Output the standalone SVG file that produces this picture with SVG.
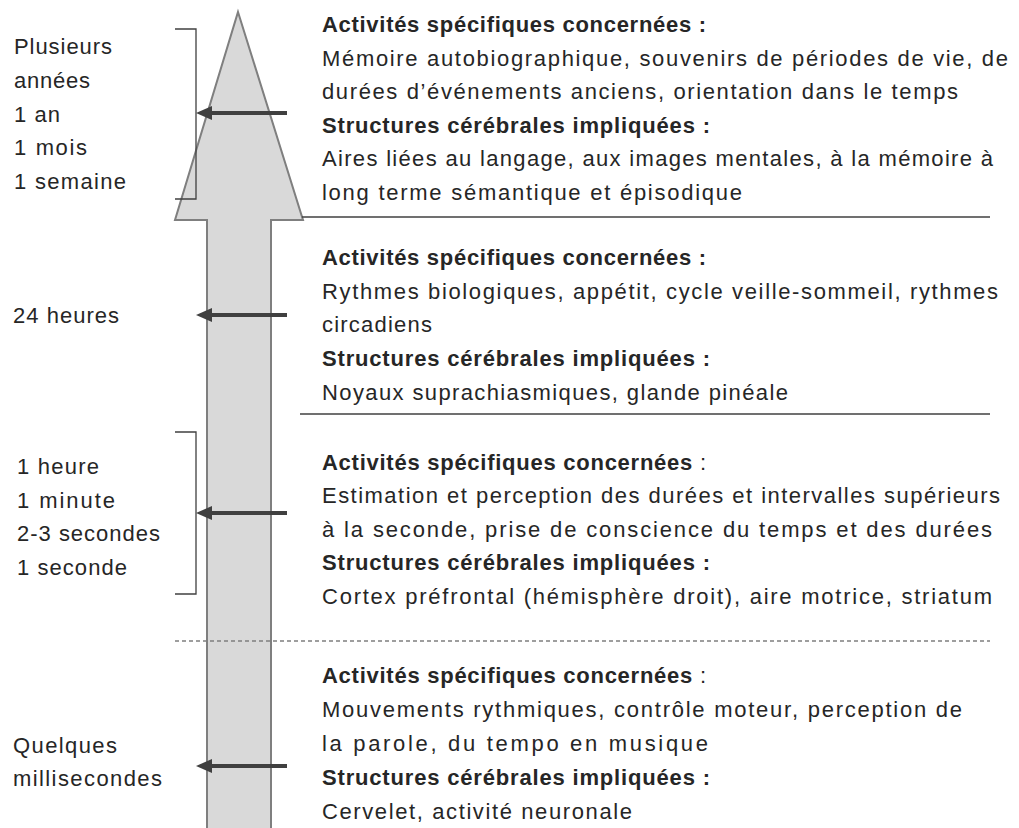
<svg xmlns="http://www.w3.org/2000/svg" width="1019" height="828" viewBox="0 0 1019 828">
<defs>
<style>
text{font-family:"Liberation Sans",Arial,sans-serif;font-size:22px;fill:#262626}
.b{font-weight:bold}
.sep{stroke:#404040;stroke-width:1.4;fill:none}
.dash{stroke:#7f7f7f;stroke-width:1.3;stroke-dasharray:4 3;fill:none}
.brk{stroke:#404040;stroke-width:1.3;fill:none}
.arr{stroke:#404040;stroke-width:4;fill:none;marker-end:url(#ah)}
</style>
<marker id="ah" markerUnits="userSpaceOnUse" markerWidth="18" markerHeight="16" refX="8" refY="7" orient="auto">
<path d="M0,0 L16,7 L0,14 z" fill="#404040"/>
</marker>
</defs>
<rect width="1019" height="828" fill="#fff"/>
<g id="timeline-arrow">
<polygon points="238,12 303,220 271,220 271,832 207,832 207,220 175,220" fill="#d9d9d9" stroke="#7f7f7f" stroke-width="2"/>
</g>
<g id="separators">
<line class="sep" x1="302" y1="217" x2="990" y2="217"/>
<line class="sep" x1="300" y1="414" x2="990" y2="414"/>
<line class="dash" x1="175" y1="641" x2="990" y2="641"/>
</g>
<g id="brackets">
<polyline class="brk" points="175,29 196,29 196,199 175,199"/>
<polyline class="brk" points="175,432 196,432 196,594 175,594"/>
</g>
<g id="connectors">
<line class="arr" x1="287" y1="113" x2="204" y2="113"/>
<line class="arr" x1="287" y1="315" x2="204" y2="315"/>
<line class="arr" x1="287" y1="513" x2="204" y2="513"/>
<line class="arr" x1="287" y1="766" x2="204" y2="766"/>
</g>
<g id="label-years">
<text x="14" y="54" textLength="98" lengthAdjust="spacing">Plusieurs</text>
<text x="14" y="88" textLength="76" lengthAdjust="spacing">années</text>
<text x="14" y="122" textLength="46" lengthAdjust="spacing">1 an</text>
<text x="14" y="155" textLength="73" lengthAdjust="spacing">1 mois</text>
<text x="14" y="189" textLength="112" lengthAdjust="spacing">1 semaine</text>
</g>
<g id="label-24h">
<text x="13" y="323" textLength="106" lengthAdjust="spacing">24 heures</text>
</g>
<g id="label-seconds">
<text x="17" y="474" textLength="82" lengthAdjust="spacing">1 heure</text>
<text x="17" y="508" textLength="98" lengthAdjust="spacing">1 minute</text>
<text x="17" y="541" textLength="143" lengthAdjust="spacing">2-3 secondes</text>
<text x="17" y="575" textLength="110" lengthAdjust="spacing">1 seconde</text>
</g>
<g id="label-ms">
<text x="13" y="753" textLength="104" lengthAdjust="spacing">Quelques</text>
<text x="13" y="786" textLength="149" lengthAdjust="spacing">millisecondes</text>
</g>
<g id="section-long-term">
<text class="b" x="322" y="32" textLength="384" lengthAdjust="spacing">Activités spécifiques concernées :</text>
<text x="322" y="66" textLength="686" lengthAdjust="spacing">Mémoire autobiographique, souvenirs de périodes de vie, de</text>
<text x="322" y="99" textLength="636" lengthAdjust="spacing">durées d’événements  anciens, orientation dans le temps</text>
<text class="b" x="322" y="133" textLength="388" lengthAdjust="spacing">Structures cérébrales impliquées :</text>
<text x="322" y="166" textLength="671" lengthAdjust="spacing">Aires liées au langage, aux images mentales, à la mémoire à</text>
<text x="322" y="200" textLength="420" lengthAdjust="spacing">long terme sémantique et épisodique</text>
</g>
<g id="section-circadian">
<text class="b" x="322" y="265" textLength="384" lengthAdjust="spacing">Activités spécifiques concernées :</text>
<text x="322" y="299" textLength="676" lengthAdjust="spacing">Rythmes biologiques, appétit, cycle veille-sommeil, rythmes</text>
<text x="322" y="332" textLength="110" lengthAdjust="spacing">circadiens</text>
<text class="b" x="322" y="366" textLength="388" lengthAdjust="spacing">Structures cérébrales impliquées :</text>
<text x="322" y="400" textLength="466" lengthAdjust="spacing">Noyaux suprachiasmiques, glande pinéale</text>
</g>
<g id="section-seconds">
<text x="322" y="470" textLength="384" lengthAdjust="spacing"><tspan class="b">Activités spécifiques concernées</tspan> :</text>
<text x="322" y="503" textLength="678" lengthAdjust="spacing">Estimation et perception des durées et intervalles supérieurs</text>
<text x="322" y="537" textLength="670" lengthAdjust="spacing">à la seconde, prise de conscience du temps et des durées</text>
<text class="b" x="322" y="570" textLength="388" lengthAdjust="spacing">Structures cérébrales impliquées :</text>
<text x="322" y="604" textLength="670" lengthAdjust="spacing">Cortex préfrontal (hémisphère droit), aire motrice, striatum</text>
</g>
<g id="section-milliseconds">
<text x="322" y="683" textLength="384" lengthAdjust="spacing"><tspan class="b">Activités spécifiques concernées</tspan> :</text>
<text x="322" y="717" textLength="640" lengthAdjust="spacing">Mouvements rythmiques, contrôle moteur, perception de</text>
<text x="322" y="751" textLength="386" lengthAdjust="spacing">la parole, du tempo en musique</text>
<text class="b" x="322" y="785" textLength="388" lengthAdjust="spacing">Structures cérébrales impliquées :</text>
<text x="322" y="819" textLength="310" lengthAdjust="spacing">Cervelet, activité neuronale</text>
</g>
</svg>
